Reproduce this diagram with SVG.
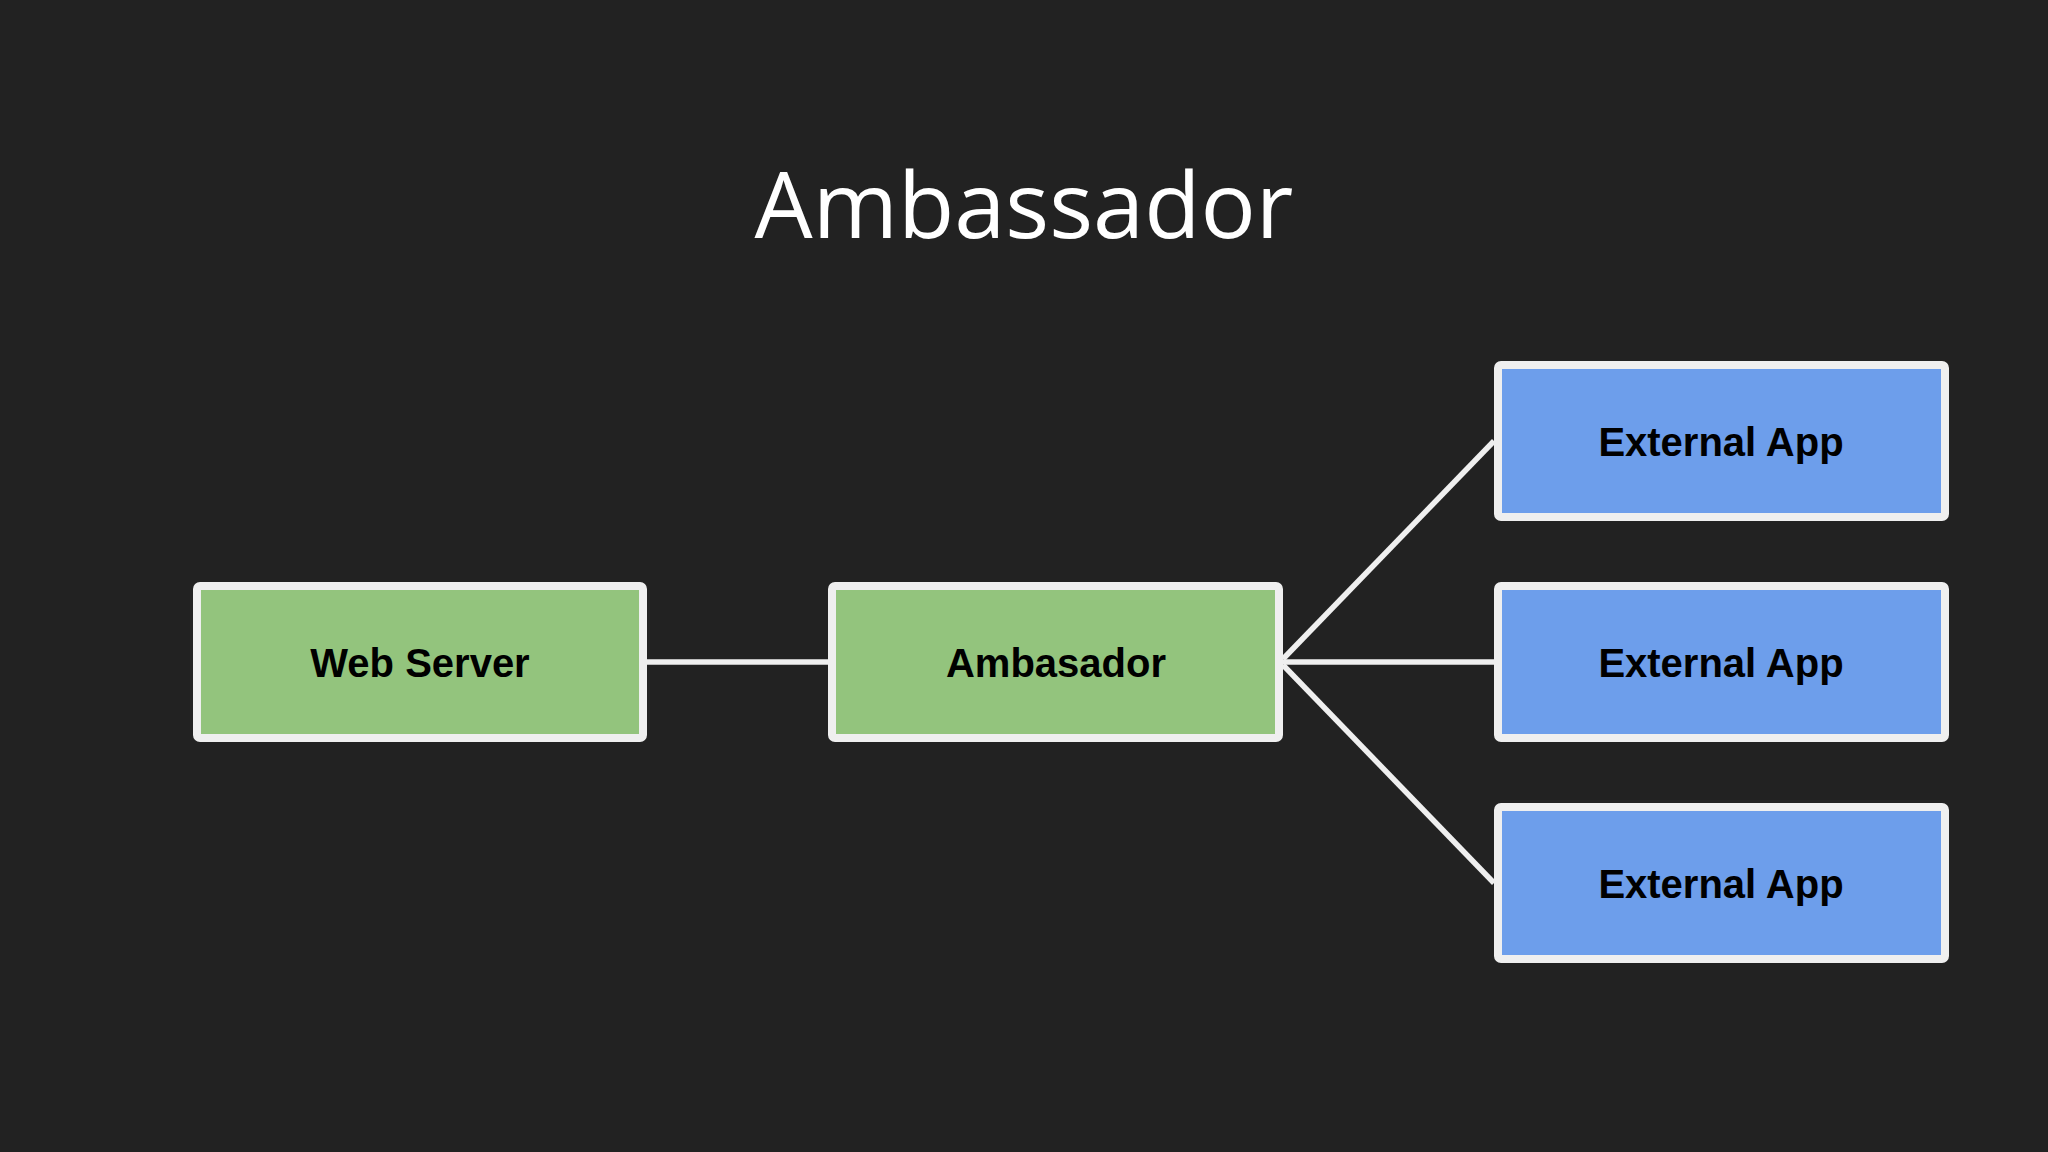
<svg xmlns="http://www.w3.org/2000/svg" width="2048" height="1152" viewBox="0 0 2048 1152">
<style>
.bg{fill:#222222}
.title{font-family:"Open Sans","Noto Sans",sans-serif;font-size:92px;fill:#ffffff;text-anchor:middle}
.box{stroke:#efefef;stroke-width:8}
.green{fill:#93c47d}
.blue{fill:#6d9eeb}
.lbl{font-family:"Liberation Sans",Arial,sans-serif;font-weight:bold;font-size:40px;fill:#000000;text-anchor:middle}
.conn{stroke:#efefef;stroke-width:5.5;fill:none}
</style>
<rect class="bg" x="0" y="0" width="2048" height="1152"/>
<text id="title" class="title" x="1024" y="238">Ambassador</text>
<g id="connectors">
<line class="conn" x1="647" y1="662" x2="828" y2="662"/>
<line class="conn" x1="1283" y1="659" x2="1494" y2="441"/>
<line class="conn" x1="1283" y1="662" x2="1494" y2="662"/>
<line class="conn" x1="1283" y1="665" x2="1494" y2="883"/>
</g>
<g id="web-server">
<rect class="box green" x="197" y="586" width="446" height="152" rx="3"/>
<text class="lbl" x="420" y="677">Web Server</text>
</g>
<g id="ambasador">
<rect class="box green" x="832" y="586" width="447" height="152" rx="3"/>
<text class="lbl" x="1056" y="677">Ambasador</text>
</g>
<g id="external-app-1">
<rect class="box blue" x="1498" y="365" width="447" height="152" rx="3"/>
<text class="lbl" x="1721" y="456">External App</text>
</g>
<g id="external-app-2">
<rect class="box blue" x="1498" y="586" width="447" height="152" rx="3"/>
<text class="lbl" x="1721" y="677">External App</text>
</g>
<g id="external-app-3">
<rect class="box blue" x="1498" y="807" width="447" height="152" rx="3"/>
<text class="lbl" x="1721" y="898">External App</text>
</g>
</svg>
